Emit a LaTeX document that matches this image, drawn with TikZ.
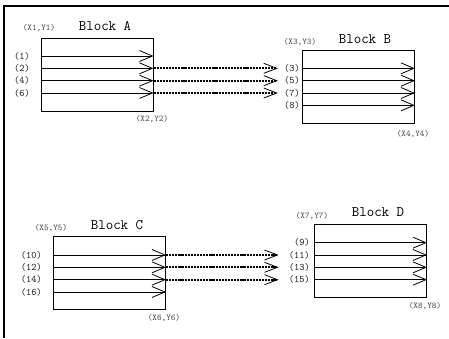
\documentclass[tikz,border=0pt]{standalone}
\usepackage{fontspec}
\usepackage{tikz}
\usetikzlibrary{arrows.meta,positioning}

\begin{document}
\begin{tikzpicture}[x=1pt, y=-1pt]

    \tikzstyle{blockbox} = [
        rectangle,
        draw,
        line width=0.9pt,
        inner sep=0pt,
        minimum width=112pt,
        minimum height=73pt,
    ]
    \tikzstyle{blockname} = [
        font=\ttfamily\fontsize{14.5}{15}\selectfont,
        inner sep=0pt,
    ]
    \tikzstyle{cornerlabel} = [
        font=\ttfamily\fontsize{8.8}{9}\selectfont,
        text=black!70,
        inner sep=0pt,
    ]
    \tikzstyle{port} = [
        font=\ttfamily\fontsize{10}{10}\selectfont,
        text=black!90,
        inner sep=1pt,
        anchor=east,
    ]
    \tikzstyle{wire} = [
        draw,
        line width=0.8pt,
        -{Straight Barb[length=13pt,width=11pt]},
    ]
    \tikzstyle{bus} = [
        draw,
        line width=1.7pt,
        dash pattern=on 2.2pt off 0.9pt,
        -{Straight Barb[length=13pt,width=10pt,line width=0.8pt]},
    ]

    \useasboundingbox (0,0) rectangle (449,338);

    % frame
    \draw[line width=1.2pt] (4,338) -- (4,6) -- (449,6);

    % Block A
    \node [blockbox] (boxA) at (97,74.5) {};
    \node [blockname] (nameA) at (105,26) {Block A};
    \node [cornerlabel] (xyA1) at (39,28) {(X1,Y1)};
    \node [cornerlabel] (xyA2) at (152,119) {(X2,Y2)};
    \node [port] (a1) at (31,56) {(1)};
    \node [port] (a2) at (31,68.33) {(2)};
    \node [port] (a4) at (31,80.67) {(4)};
    \node [port] (a6) at (31,93) {(6)};
    \path [wire] (boxA.west |- a1) -- (boxA.east |- a1);
    \path [wire] (boxA.west |- a2) -- (boxA.east |- a2);
    \path [wire] (boxA.west |- a4) -- (boxA.east |- a4);
    \path [wire] (boxA.west |- a6) -- (boxA.east |- a6);

    % Block B
    \node [blockbox] (boxB) at (358.5,86.83) {};
    \node [blockname] (nameB) at (365,39) {Block B};
    \node [cornerlabel] (xyB3) at (300,42) {(X3,Y3)};
    \node [cornerlabel] (xyB4) at (413,134) {(X4,Y4)};
    \node [port] (b3) at (301,68.33) {(3)};
    \node [port] (b5) at (301,80.67) {(5)};
    \node [port] (b7) at (301,93) {(7)};
    \node [port] (b8) at (301,105.33) {(8)};
    \path [wire] (boxB.west |- b3) -- (boxB.east |- b3);
    \path [wire] (boxB.west |- b5) -- (boxB.east |- b5);
    \path [wire] (boxB.west |- b7) -- (boxB.east |- b7);
    \path [wire] (boxB.west |- b8) -- (boxB.east |- b8);

    \path [bus, shorten >=5pt] (boxA.east |- a2) -- (b3.west);
    \path [bus, shorten >=5pt] (boxA.east |- a4) -- (b5.west);
    \path [bus, shorten >=5pt] (boxA.east |- a6) -- (b7.west);

    % Block C
    \node [blockbox] (boxC) at (109.5,273) {};
    \node [blockname] (nameC) at (117,225) {Block C};
    \node [cornerlabel] (xyC5) at (51,228) {(X5,Y5)};
    \node [cornerlabel] (xyC6) at (164,318) {(X6,Y6)};
    \node [port] (c10) at (43,255) {(10)};
    \node [port] (c12) at (43,267.33) {(12)};
    \node [port] (c14) at (43,279.67) {(14)};
    \node [port] (c16) at (43,292) {(16)};
    \path [wire] (boxC.west |- c10) -- (boxC.east |- c10);
    \path [wire] (boxC.west |- c12) -- (boxC.east |- c12);
    \path [wire] (boxC.west |- c14) -- (boxC.east |- c14);
    \path [wire] (boxC.west |- c16) -- (boxC.east |- c16);

    % Block D
    \node [blockbox] (boxD) at (370.5,261.17) {};
    \node [blockname] (nameD) at (378,212) {Block D};
    \node [cornerlabel] (xyD7) at (312,216) {(X7,Y7)};
    \node [cornerlabel] (xyD8) at (425,306) {(X8,Y8)};
    \node [port] (d9) at (311,242.67) {(9)};
    \node [port] (d11) at (311,255) {(11)};
    \node [port] (d13) at (311,267.33) {(13)};
    \node [port] (d15) at (311,279.67) {(15)};
    \path [wire] (boxD.west |- d9) -- (boxD.east |- d9);
    \path [wire] (boxD.west |- d11) -- (boxD.east |- d11);
    \path [wire] (boxD.west |- d13) -- (boxD.east |- d13);
    \path [wire] (boxD.west |- d15) -- (boxD.east |- d15);

    \path [bus, shorten >=9pt] (boxC.east |- c10) -- (d11.west);
    \path [bus, shorten >=9pt] (boxC.east |- c12) -- (d13.west);
    \path [bus, shorten >=9pt] (boxC.east |- c14) -- (d15.west);

\end{tikzpicture}
\end{document}
